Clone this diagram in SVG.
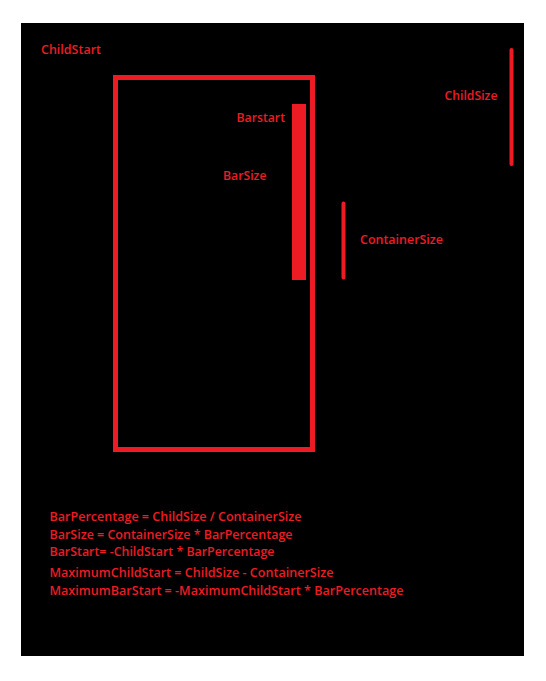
<svg xmlns="http://www.w3.org/2000/svg" width="546" height="681" viewBox="0 0 546 681">
  <style>
    .lbl { font-family: "Open Sans", "Noto Sans", "Liberation Sans", sans-serif; font-weight: 600; font-size: 13px; fill: #ED1C24; }
    .red { fill: #ED1C24; }
    .dim { stroke: #ED1C24; stroke-width: 4; stroke-linecap: round; fill: none; }
  </style>
  <rect x="0" y="0" width="546" height="681" fill="#FFFFFF"/>
  <rect id="canvas" x="21" y="23" width="503" height="633" fill="#000000"/>

  <g id="childstart">
    <text class="lbl" x="41" y="54" textLength="60" lengthAdjust="spacingAndGlyphs">ChildStart</text>
  </g>

  <g id="container">
    <rect x="115.5" y="77.5" width="197" height="372" fill="none" stroke="#ED1C24" stroke-width="5"/>
  </g>

  <g id="bar">
    <rect class="red" x="292" y="104" width="14" height="176"/>
    <text class="lbl" x="236.5" y="121.5" textLength="48.5" lengthAdjust="spacingAndGlyphs">Barstart</text>
    <text class="lbl" x="223" y="180" textLength="43.5" lengthAdjust="spacingAndGlyphs">BarSize</text>
  </g>

  <g id="childsize">
    <line class="dim" x1="511.5" y1="50" x2="511.5" y2="164"/>
    <text class="lbl" x="444.5" y="100" textLength="53" lengthAdjust="spacingAndGlyphs">ChildSize</text>
  </g>

  <g id="containersize">
    <line class="dim" x1="343.5" y1="203.5" x2="343.5" y2="277.5"/>
    <text class="lbl" x="360" y="244" textLength="83" lengthAdjust="spacingAndGlyphs">ContainerSize</text>
  </g>

  <g id="formulas">
    <text class="lbl" x="49.5" y="521" textLength="252" lengthAdjust="spacingAndGlyphs">BarPercentage = ChildSize / ContainerSize</text>
    <text class="lbl" x="49.5" y="538.5" textLength="243" lengthAdjust="spacingAndGlyphs">BarSize = ContainerSize * BarPercentage</text>
    <text class="lbl" x="49.5" y="556" textLength="225" lengthAdjust="spacingAndGlyphs">BarStart= -ChildStart * BarPercentage</text>
    <text class="lbl" x="49.5" y="577" textLength="284" lengthAdjust="spacingAndGlyphs">MaximumChildStart = ChildSize - ContainerSize</text>
    <text class="lbl" x="49.5" y="595" textLength="354" lengthAdjust="spacingAndGlyphs">MaximumBarStart = -MaximumChildStart * BarPercentage</text>
  </g>

  <g id="connectors"></g>
</svg>
